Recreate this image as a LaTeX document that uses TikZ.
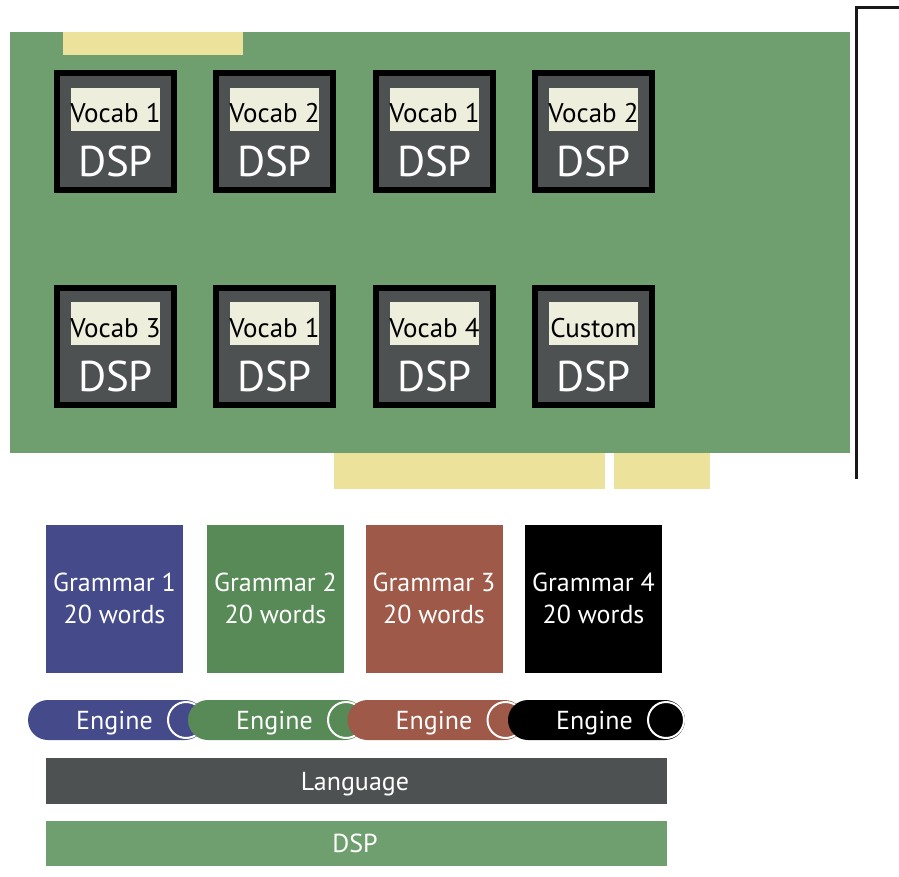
\documentclass[tikz,border=0pt]{standalone}
\usepackage{fontspec}
\setmainfont{PT Sans}
\definecolor{cardgreen}{HTML}{6F9E6F}
\definecolor{tabyellow}{HTML}{ECE29C}
\definecolor{chipgray}{HTML}{4D5152}
\definecolor{cream}{HTML}{EEEEDC}
\definecolor{gblue}{HTML}{454A8A}
\definecolor{ggreen}{HTML}{588A58}
\definecolor{gred}{HTML}{9E5948}
\tikzset{
  tab/.style={fill=tabyellow, inner sep=0, anchor=north west},
  chip/.style={draw=black, line width=6pt, fill=chipgray, minimum size=117pt, inner sep=0},
  vlabel/.style={fill=cream, minimum width=89pt, minimum height=43pt, inner sep=0},
  vtext/.style={inner sep=0, font=\fontsize{27}{30}\selectfont},
  dsptext/.style={text=white, inner sep=0, font=\fontsize{43}{46}\selectfont},
  grammar/.style={minimum width=137pt, minimum height=148pt, inner sep=0, text=white, align=center, font=\fontsize{26}{32}\selectfont},
  pill/.style={rounded corners=20pt, minimum width=177pt, minimum height=40pt, inner sep=0},
  btext/.style={text=white, inner sep=0, font=\fontsize{26}{28}\selectfont},
  endcap/.style={circle, draw=white, line width=2pt, minimum size=36pt, inner sep=0},
  bar/.style={minimum width=621pt, inner sep=0}
}
\begin{document}
\begin{tikzpicture}[x=1pt,y=-1pt]
\useasboundingbox (0,0) rectangle (899,877);
% card
\node[fill=cardgreen, minimum width=840pt, minimum height=421pt, inner sep=0, anchor=north west] (card) at (10,32) {};
\node[tab, minimum width=180pt, minimum height=23pt] (tabtop) at (63,32) {};
\node[tab, minimum width=271pt, minimum height=36pt] (tabb1) at (334,453) {};
\node[tab, minimum width=96pt, minimum height=36pt] (tabb2) at (614,453) {};
% bracket
\coordinate (br1) at (899,8);
\coordinate (br2) at (856,8);
\coordinate (br3) at (856,479);
\draw[line width=3pt, color=black!90] (br1) -- (br2) -- (br3);
% chips
\foreach \n/\x/\y/\t in {c1/115.5/132/Vocab 1, c2/274.5/132/Vocab 2, c3/434.5/132/Vocab 1, c4/593.5/132/Vocab 2,
                         c5/115.5/346/Vocab 3, c6/274.5/346/Vocab 1, c7/434.5/346/Vocab 4, c8/593.5/346/Custom}{
  \node[chip] (\n) at (\x,\y) {};
  \node[vlabel] (\n l) at (\x,\y-22.5) {};
  \node[vtext, anchor=base] (\n t) at (\x,\y-9) {\t};
  \node[dsptext, anchor=base] (\n d) at (\x,\y+45) {DSP};
}
% grammars
\node[grammar, fill=gblue] (g1) at (114.5,599) {};
\node[grammar, fill=ggreen] (g2) at (275.5,599) {};
\node[grammar, fill=gred] (g3) at (434,599) {};
\node[grammar, fill=black] (g4) at (593.5,599) {};
\foreach \g/\k in {g1/1, g2/2, g3/3, g4/4}{
  \node[btext, anchor=base] (\g a) at ([yshift=8pt]\g.center) {Grammar \k};
  \node[btext, anchor=base] (\g b) at ([yshift=-24pt]\g.center) {20 words};
}
% engines
\foreach \n/\x/\c in {e1/116.5/gblue, e2/276.5/ggreen, e3/436/gred, e4/596.5/black}{
  \node[pill, fill=\c] (\n) at (\x,720) {};
  \node[endcap, fill=\c] (\n c) at (\x+69.5,720) {};
  \node[btext, anchor=base] (\n t) at (\x-2,729) {Engine};
}
% bars
\node[bar, fill=chipgray, minimum height=46pt] (lang) at (356.5,781) {};
\node[btext, anchor=base] (langt) at (355,790) {Language};
\node[bar, fill=cardgreen, minimum height=45pt] (dsp) at (356.5,843.5) {};
\node[btext, anchor=base] (dspt) at (355,852) {DSP};
\end{tikzpicture}
\end{document}
